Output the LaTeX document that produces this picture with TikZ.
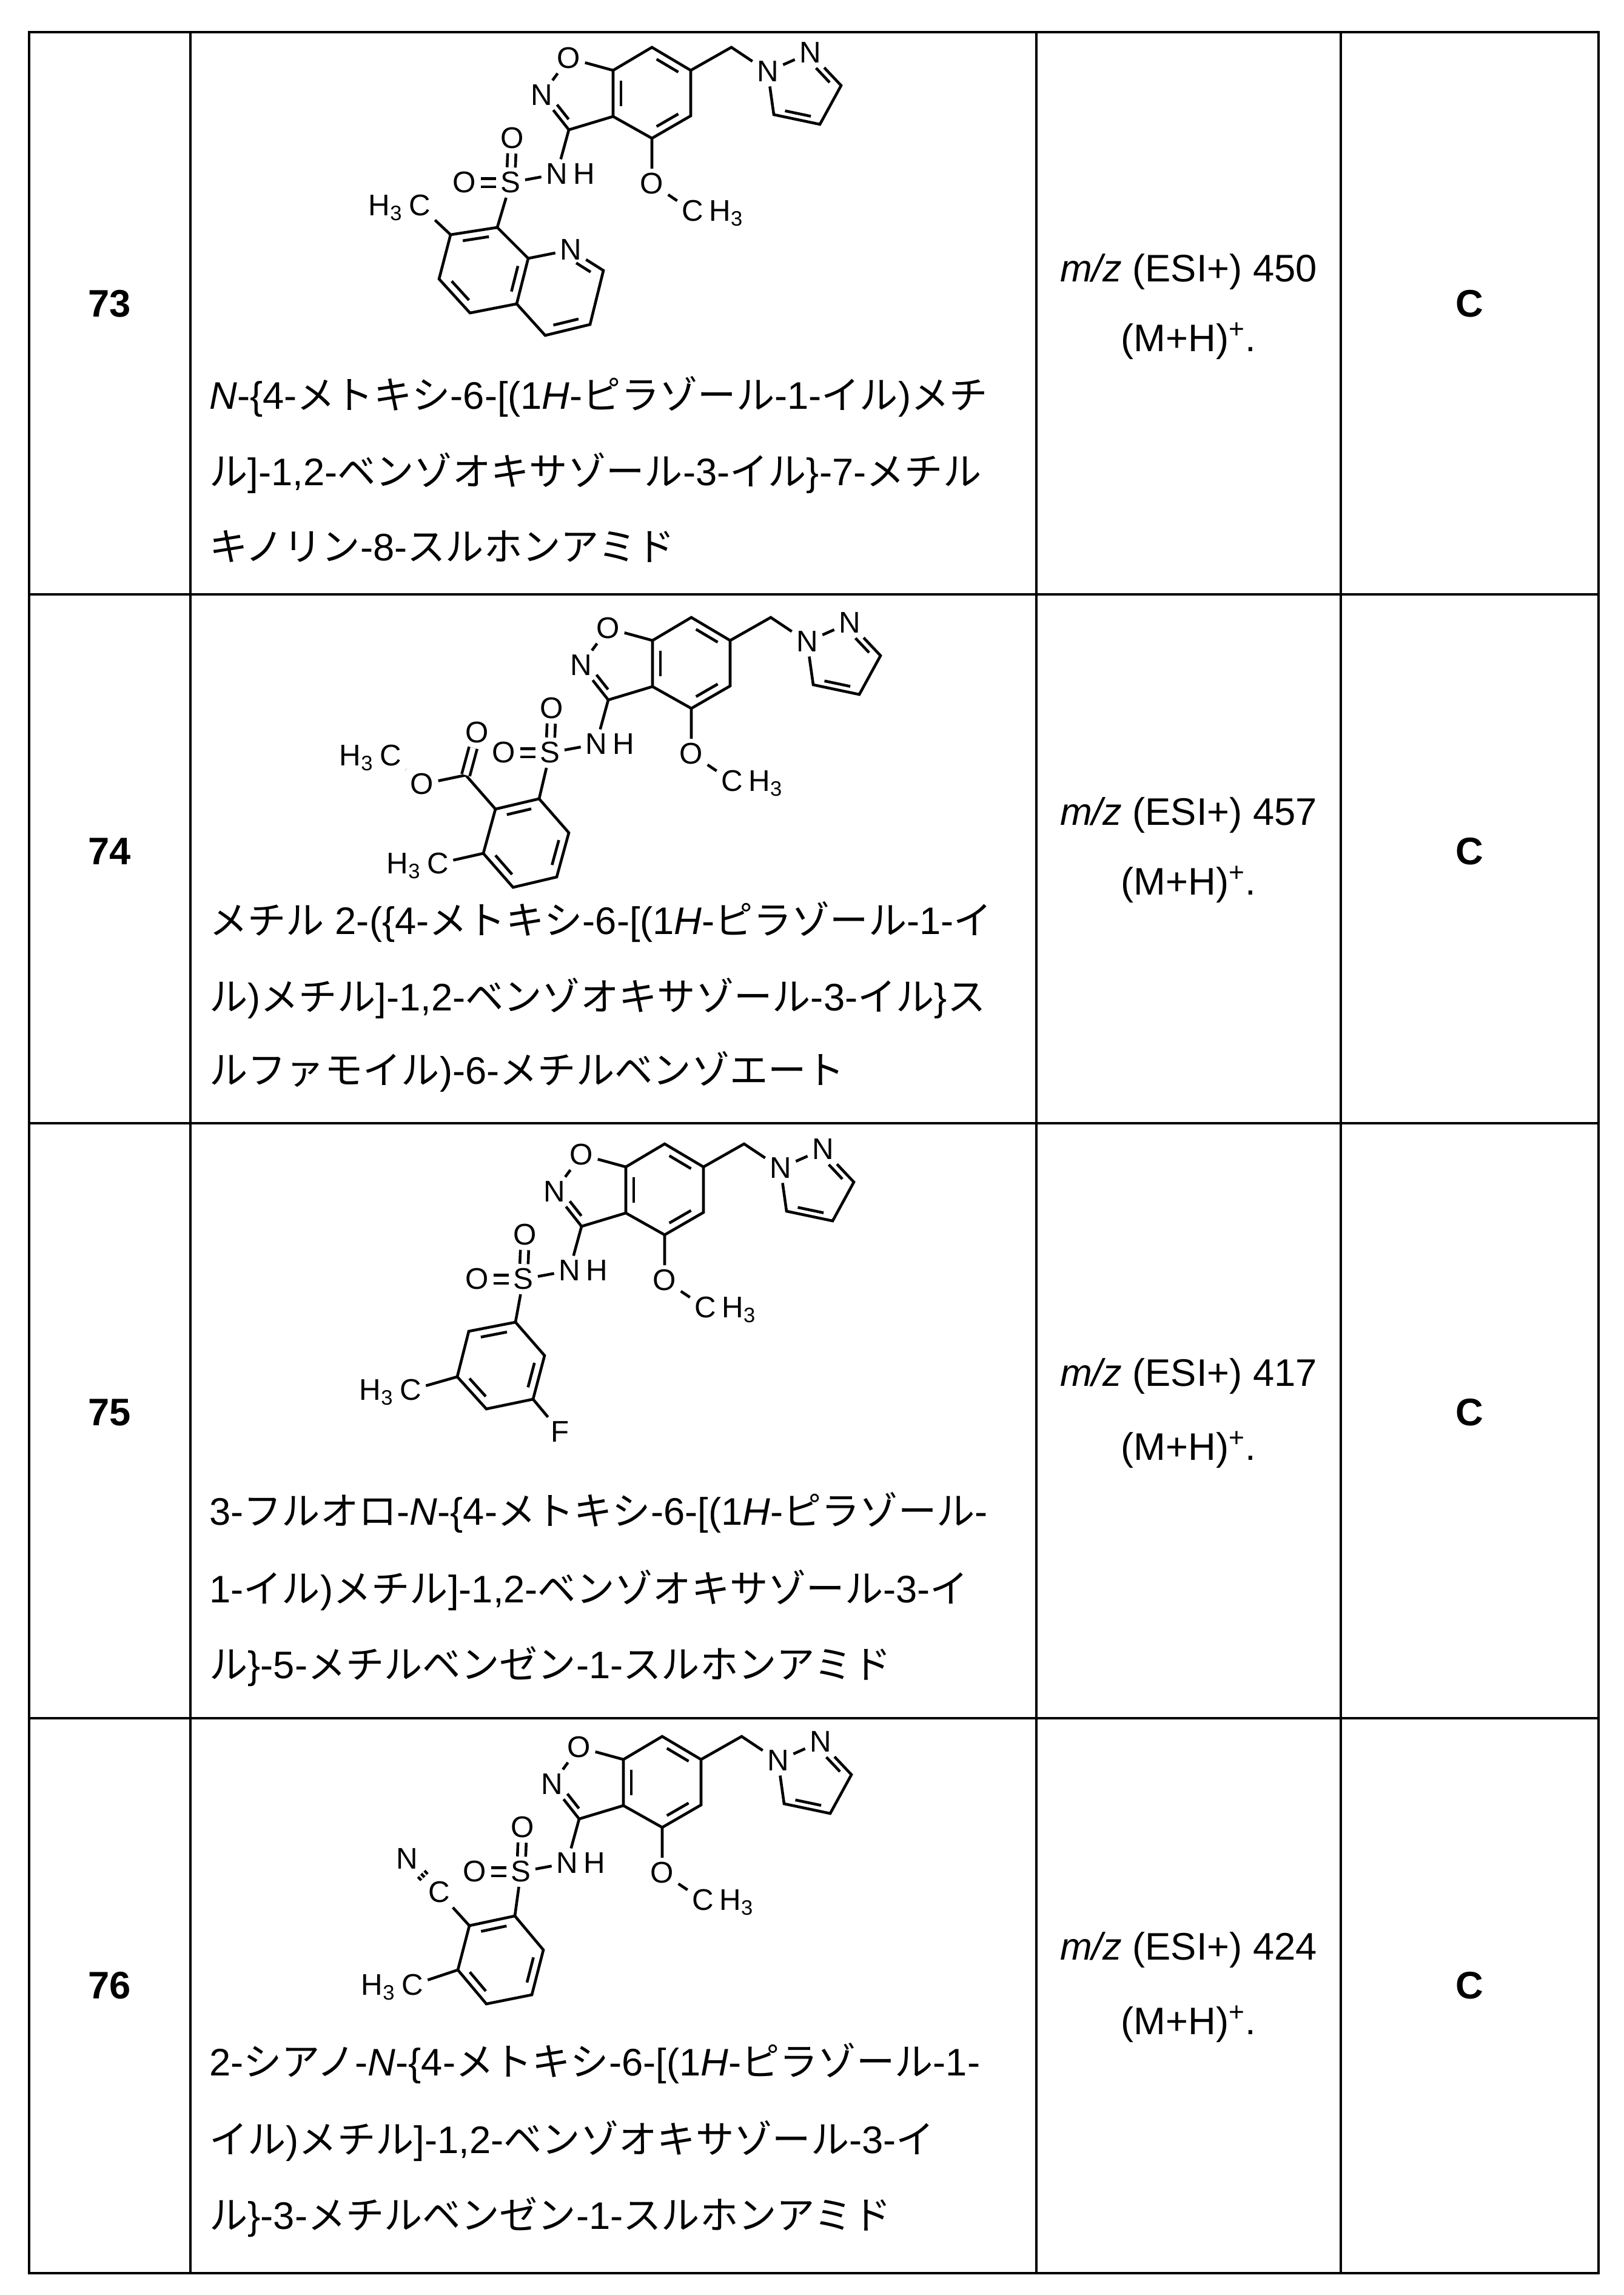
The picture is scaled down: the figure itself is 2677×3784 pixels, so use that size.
\documentclass[tikz,border=0pt]{standalone}
\usepackage{fontspec}
\setmainfont{Liberation Sans}
\newfontfamily\jp{Noto Sans CJK JP}
\usetikzlibrary{calc}
\newcommand\J[1]{{\jp #1}}
\newcommand\db[5]{\draw ($($(#1)!#4!(#2)$)!.2!(#3)$) -- ($($(#2)!#5!(#1)$)!.2!(#3)$);}
\newcommand\HL[1]{\node[atom,anchor=base east,inner sep=0pt] at (#1.base west) {H\textsubscript{3}};}
\newcommand\HR[1]{\node[atom,anchor=base west,inner sep=0pt] at (#1.base east) {H\textsubscript{3}};}
\newcommand\core[1]{%
 \coordinate (#1c3) at (0,118); \coordinate (#1c3a) at (73,96);
 \coordinate (#1c7a) at (73,20); \coordinate (#1c7) at (137,-18);
 \coordinate (#1c6) at (201,20); \coordinate (#1c5) at (201,95);
 \coordinate (#1c4) at (137,132); \coordinate (#1ch2) at (268,-18);
 \coordinate (#1c3p) at (449,45); \coordinate (#1c4p) at (414,109);
 \coordinate (#1c5p) at (338,93); \coordinate (#1ring) at (137,57);
 \coordinate (#1iso) at (20,59); \coordinate (#1pz) at (385,52);
 \node[atom] (#1O) at (0,0) {O};
 \node[atom] (#1N) at (-45,61) {N};
 \node[atom] (#1N1) at (328,22) {N};
 \node[atom] (#1N2) at (398,-9) {N};
 \node[atom] (#1NH) at (-20,191) {N};
 \node[atom,anchor=base west,inner sep=0pt] at (#1NH.base east) {H};
 \node[atom] (#1S) at (-96,205) {S};
 \node[atom] (#1Ot) at (-93,132) {O};
 \node[atom] (#1Ol) at (-172,205) {O};
 \node[atom] (#1OM) at (137,207) {O};
 \node[atom] (#1Me) at (204,252) {C}; \HR{#1Me}
 \draw (#1N) -- (#1O) -- (#1c7a);
 \draw (#1N) -- (#1c3) -- (#1c3a) -- (#1c7a) -- (#1c7) -- (#1c6) -- (#1c5) -- (#1c4) -- (#1c3a);
 \draw (#1c6) -- (#1ch2) -- (#1N1) -- (#1N2) -- (#1c3p) -- (#1c4p) -- (#1c5p) -- (#1N1);
 \draw (#1c3) -- (#1NH) -- (#1S);
 \draw[dbl] (#1S) -- (#1Ot); \draw[dbl] (#1S) -- (#1Ol);
 \draw (#1c4) -- (#1OM) -- (#1Me);
 \db{#1N}{#1c3}{#1iso}{.35}{.12}
 \db{#1c3a}{#1c7a}{#1ring}{.15}{.15}
 \db{#1c7}{#1c6}{#1ring}{.15}{.15}
 \db{#1c5}{#1c4}{#1ring}{.15}{.15}
 \db{#1N2}{#1c3p}{#1pz}{.3}{.15}
 \db{#1c4p}{#1c5p}{#1pz}{.15}{.15}
}
\begin{document}
\begin{tikzpicture}[x=0.01cm,y=-0.01cm,line width=1.3pt,
  atom/.style={font=\fontsize{14}{16}\selectfont,inner sep=1.5pt},
  dbl/.style={double distance=0.09cm},
  tbl/.style={line width=1pt},
  txt/.style={font=\fontsize{18}{22}\selectfont,anchor=west,inner sep=0pt},
  mid/.style={font=\fontsize{18}{22}\selectfont,inner sep=0pt},
  num/.style={font=\fontsize{18}{22}\selectfont\bfseries,inner sep=0pt}]
\useasboundingbox (0,0) rectangle (2677,3784);
% table
\draw[tbl] (48,53) rectangle (2636,3748);
\foreach \yy in {980,1852,2833} \draw[tbl] (48,\yy) -- (2636,\yy);
\foreach \xx in {314,1709,2211} \draw[tbl] (\xx,53) -- (\xx,3748);
% row 73
\begin{scope}[shift={(938,96)}]\core{a}\end{scope}
\coordinate (q8) at (820,375); \coordinate (q7) at (743,387);
\coordinate (q6) at (724,460); \coordinate (q5) at (775,516);
\coordinate (q4a) at (852,501); \coordinate (q8a) at (871,426);
\node[atom] (qN) at (941,412) {N};
\coordinate (q2) at (995,446); \coordinate (q3) at (973,535); \coordinate (q4) at (899,553);
\coordinate (qb) at (797.5,444); \coordinate (qp) at (922,479);
\node[atom] (qMe) at (692,339) {C}; \HL{qMe}
\draw (aS) -- (q8) -- (q7) -- (q6) -- (q5) -- (q4a) -- (q8a) -- (q8);
\draw (q8a) -- (qN) -- (q2) -- (q3) -- (q4) -- (q4a);
\draw (q7) -- (qMe);
\db{q8}{q7}{qb}{.15}{.15} \db{q6}{q5}{qb}{.15}{.15} \db{q4a}{q8a}{qb}{.15}{.15}
\db{qN}{q2}{qp}{.3}{.15} \db{q3}{q4}{qp}{.15}{.15}
% row 74
\begin{scope}[shift={(1003,1036)}]\core{b}\end{scope}
\coordinate (a1) at (889,1317); \coordinate (a2) at (817,1334); \coordinate (a3) at (797,1407);
\coordinate (a4) at (846,1463); \coordinate (a5) at (918,1446); \coordinate (a6) at (938,1373);
\coordinate (ac) at (867.5,1390); \coordinate (ce) at (768,1278);
\node[atom] (Oc) at (787,1208) {O}; \node[atom] (Oe) at (696,1293) {O};
\node[atom] (Me1) at (644,1246) {C}; \HL{Me1}
\node[atom] (Me2) at (722,1424) {C}; \HL{Me2}
\draw (bS) -- (a1) -- (a2) -- (a3) -- (a4) -- (a5) -- (a6) -- (a1);
\draw (a2) -- (ce) -- (Oe) -- (Me1); \draw[dbl] (ce) -- (Oc); \draw (a3) -- (Me2);
\db{a1}{a2}{ac}{.15}{.15} \db{a3}{a4}{ac}{.15}{.15} \db{a5}{a6}{ac}{.15}{.15}
% row 75
\begin{scope}[shift={(959,1904)}]\core{c}\end{scope}
\coordinate (b1) at (850,2180); \coordinate (b2) at (773,2195); \coordinate (b3) at (754,2270);
\coordinate (b4) at (802,2323); \coordinate (b5) at (879,2307); \coordinate (b6) at (898,2235);
\coordinate (bc) at (826,2252);
\node[atom] (bMe) at (677,2292) {C}; \HL{bMe}
\node[atom] (bF) at (924,2361) {F};
\draw (cS) -- (b1) -- (b2) -- (b3) -- (b4) -- (b5) -- (b6) -- (b1);
\draw (b3) -- (bMe); \draw (b5) -- (bF);
\db{b1}{b2}{bc}{.15}{.15} \db{b3}{b4}{bc}{.15}{.15} \db{b5}{b6}{bc}{.15}{.15}
% row 76
\begin{scope}[shift={(955,2881)}]\core{d}\end{scope}
\coordinate (d1) at (849,3159); \coordinate (d2) at (774,3175); \coordinate (d3) at (755,3248);
\coordinate (d4) at (802,3304); \coordinate (d5) at (877,3289); \coordinate (d6) at (896,3215);
\coordinate (dc) at (825.5,3232);
\node[atom] (cnC) at (724,3120) {C}; \node[atom] (cnN) at (671,3065) {N};
\node[atom] (dMe) at (680,3273) {C}; \HL{dMe}
\draw (dS) -- (d1) -- (d2) -- (d3) -- (d4) -- (d5) -- (d6) -- (d1);
\draw (d2) -- (cnC); \draw[double distance=0.1cm] (cnC) -- (cnN); \draw (cnC) -- (cnN);
\draw (d3) -- (dMe);
\db{d1}{d2}{dc}{.15}{.15} \db{d3}{d4}{dc}{.15}{.15} \db{d5}{d6}{dc}{.15}{.15}
% texts
\node[num] (n73) at (181,501) {73};
\node[num] (n74) at (181,1404) {74};
\node[num] (n75) at (181,2329) {75};
\node[num] (n76) at (181,3274) {76};
\node[num] (c73) at (2423,501) {C};
\node[num] (c74) at (2423,1404) {C};
\node[num] (c75) at (2423,2329) {C};
\node[num] (c76) at (2423,3274) {C};
\node[mid] (m73a) at (1960,448) {\textit{m/z} (ESI+) 450};
\node[mid] (m73b) at (1960,562) {(M+H)\textsuperscript{+}.};
\node[mid] (m74a) at (1960,1344) {\textit{m/z} (ESI+) 457};
\node[mid] (m74b) at (1960,1458) {(M+H)\textsuperscript{+}.};
\node[mid] (m75a) at (1960,2269) {\textit{m/z} (ESI+) 417};
\node[mid] (m75b) at (1960,2390) {(M+H)\textsuperscript{+}.};
\node[mid] (m76a) at (1960,3215) {\textit{m/z} (ESI+) 424};
\node[mid] (m76b) at (1960,3337) {(M+H)\textsuperscript{+}.};
\node[txt] (t731) at (343,654) {\textit{N}-\{4-\J{メトキシ}-6-[(1\textit{H}-\J{ピラゾール}-1-\J{イル})\J{メチ}};
\node[txt] (t732) at (343,780) {\J{ル}]-1,2-\J{ベンゾオキサゾール}-3-\J{イル}\}-7-\J{メチル}};
\node[txt] (t733) at (343,901) {\J{キノリン}-8-\J{スルホンアミド}};
\node[txt] (t741) at (343,1520) {\J{メチル} 2-(\{4-\J{メトキシ}-6-[(1\textit{H}-\J{ピラゾール}-1-\J{イ}};
\node[txt] (t742) at (343,1646) {\J{ル})\J{メチル}]-1,2-\J{ベンゾオキサゾール}-3-\J{イル}\}\J{ス}};
\node[txt] (t743) at (343,1767) {\J{ルファモイル})-6-\J{メチルベンゾエート}};
\node[txt] (t751) at (343,2494) {3-\J{フルオロ}-\textit{N}-\{4-\J{メトキシ}-6-[(1\textit{H}-\J{ピラゾール}-};
\node[txt] (t752) at (343,2622) {1-\J{イル})\J{メチル}]-1,2-\J{ベンゾオキサゾール}-3-\J{イ}};
\node[txt] (t753) at (343,2748) {\J{ル}\}-5-\J{メチルベンゼン}-1-\J{スルホンアミド}};
\node[txt] (t761) at (343,3402) {2-\J{シアノ}-\textit{N}-\{4-\J{メトキシ}-6-[(1\textit{H}-\J{ピラゾール}-1-};
\node[txt] (t762) at (343,3530) {\J{イル})\J{メチル}]-1,2-\J{ベンゾオキサゾール}-3-\J{イ}};
\node[txt] (t763) at (343,3656) {\J{ル}\}-3-\J{メチルベンゼン}-1-\J{スルホンアミド}};
\end{tikzpicture}
\end{document}
